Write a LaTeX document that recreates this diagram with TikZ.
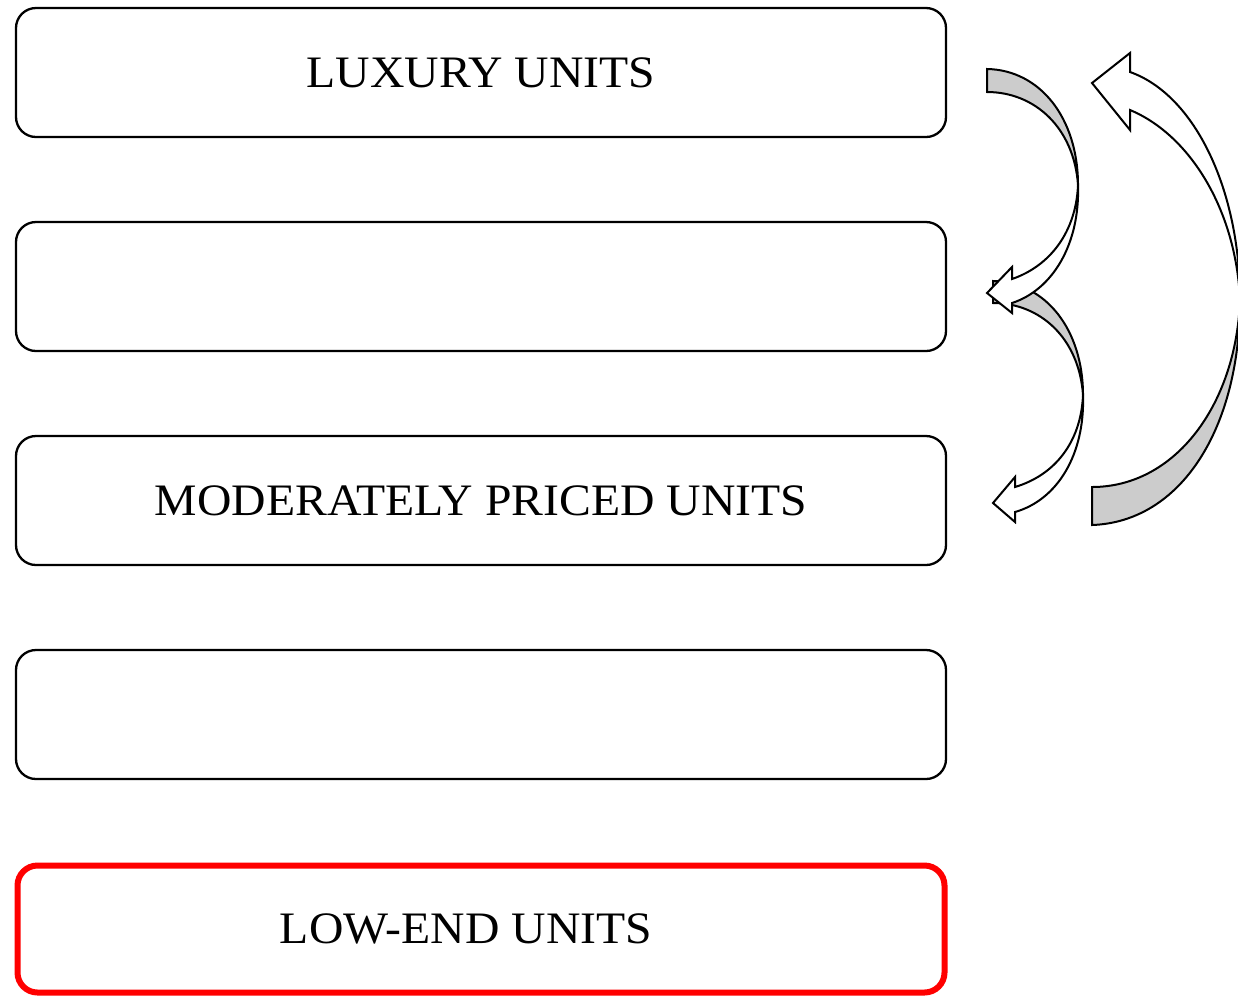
\documentclass[tikz,border=0pt]{standalone}
\usepackage{fontspec}
\setmainfont[FakeStretch=1.06]{Liberation Serif}
\definecolor{backgray}{RGB}{204,204,204}
\definecolor{boxred}{RGB}{255,0,0}
\tikzset{
  unitbox/.style={draw=black, line width=2.3pt, rounded corners=20pt, minimum width=930pt, minimum height=129pt, inner sep=0pt, font=\fontsize{45}{54}\selectfont},
  redbox/.style={unitbox, draw=boxred, line width=6pt, minimum width=927pt, minimum height=127pt},
  arrowback/.style={draw=black, line width=2pt, fill=backgray, line join=miter},
  arrowfront/.style={draw=black, line width=2pt, fill=white, line join=miter}
}
\begin{document}
\begin{tikzpicture}[x=1pt,y=-1pt]
\useasboundingbox (0,0) rectangle (1238,997);
\clip (0,0) rectangle (1238,997);
\node[unitbox] (lux) at (481,72.5) {LUXURY UNITS};
\node[unitbox] (b2) at (481,286.5) {};
\node[unitbox] (mod) at (481,500.5) {MODERATELY PRICED UNITS};
\node[unitbox] (b4) at (481,714.5) {};
\node[redbox] (low) at (481,929) {\hspace*{-30pt}LOW-END UNITS};
% arrow 3 (big, right)
\draw[arrowback] (1092,525) .. controls (1180,522) and (1240,430) .. (1240,300)
  .. controls (1236,405) and (1175,487) .. (1092,487) -- cycle;
\draw[arrowfront] (1240,300) .. controls (1240,190) and (1195,95) .. (1130,72)
  -- (1130,53) -- (1092,83) -- (1130,130) -- (1130,110)
  .. controls (1190,135) and (1236,210) .. (1240,300) -- cycle;
% arrow 2 (middle)
\draw[arrowback] (993,281) .. controls (1046,282) and (1083,330) .. (1083,395)
  .. controls (1079,338) and (1040,303) .. (993,303) -- cycle;
\draw[arrowfront] (1083,395) .. controls (1085,455) and (1057,500) .. (1015,512)
  -- (1015,522) -- (993,503) -- (1015,477) -- (1015,487)
  .. controls (1055,475) and (1081,442) .. (1083,395) -- cycle;
% arrow 1 (top)
\draw[arrowback] (987,69) .. controls (1040,70) and (1078,118) .. (1078,185)
  .. controls (1074,128) and (1035,92) .. (987,92) -- cycle;
\draw[arrowfront] (1078,185) .. controls (1080,245) and (1052,290) .. (1012,303)
  -- (1012,313) -- (987,293) -- (1012,267) -- (1012,279)
  .. controls (1050,266) and (1076,232) .. (1078,185) -- cycle;
\end{tikzpicture}
\end{document}
